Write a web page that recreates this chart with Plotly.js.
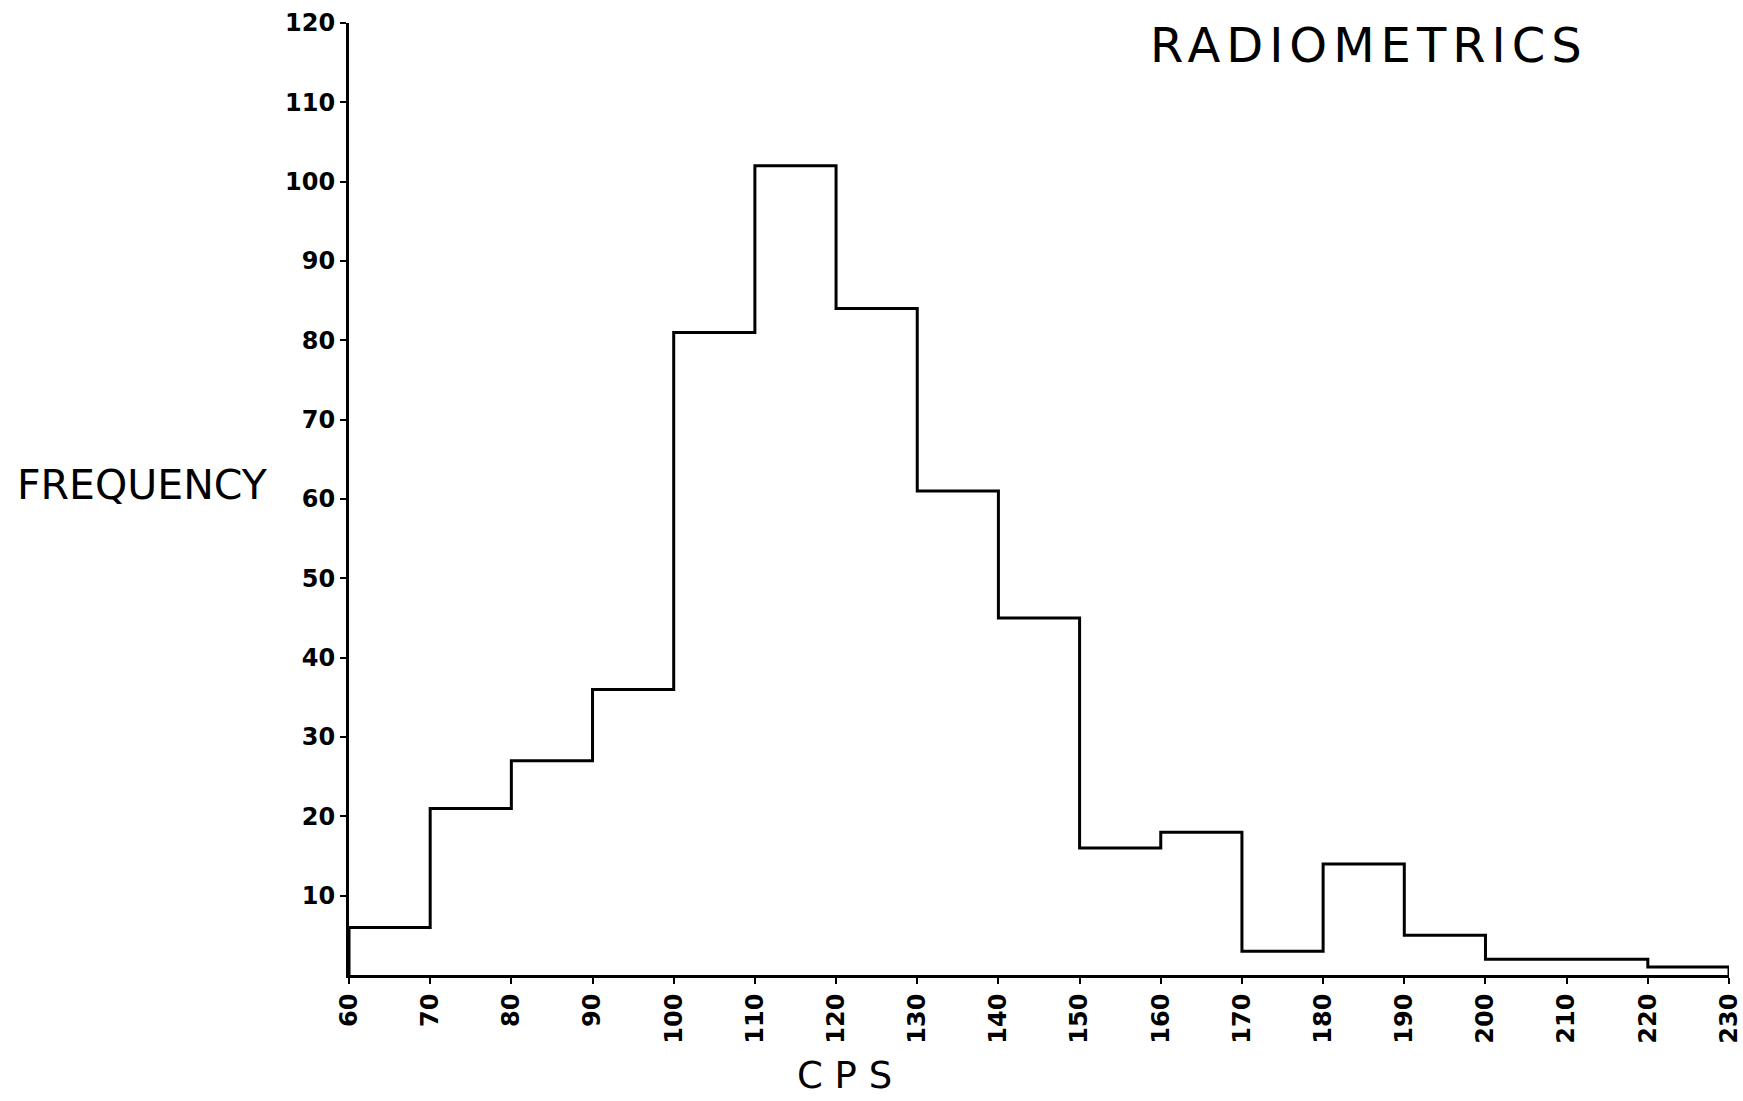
<!DOCTYPE html>
<html>
<head>
<meta charset="utf-8">
<script src="https://cdn.plot.ly/plotly-3.0.1.min.js"></script>
<style>
  html, body { margin: 0; padding: 0; background: #fff; }
  #chart { width: 1743px; height: 1101px; }
</style>
</head>
<body>
<div id="chart"></div>
<script>
// Histogram bin edges (CPS) and frequencies
const binEdges = [60, 70, 80, 90, 100, 110, 120, 130, 140, 150, 160, 170, 180, 190, 200, 210, 220, 230];
const frequency = [6, 21, 27, 36, 81, 102, 84, 61, 45, 16, 18, 3, 14, 5, 2, 2, 1];
const xTickVals = [60, 70, 80, 90, 100, 110, 120, 130, 140, 150, 160, 170, 180, 190, 200, 210, 220, 230];
const yTickVals = [10, 20, 30, 40, 50, 60, 70, 80, 90, 100, 110, 120];

const n = frequency.length;
const stepX = [binEdges[0]].concat(binEdges.slice(0, n), [binEdges[n], binEdges[n]]);
const stepY = [0].concat(frequency, [frequency[n - 1], 0]);

const trace = {
  type: 'scatter',
  mode: 'lines',
  x: stepX,
  y: stepY,
  line: { shape: 'hv', color: '#000', width: 3 },
  cliponaxis: false,
  hoverinfo: 'skip',
  showlegend: false
};

const font = 'DejaVu Sans, Liberation Sans, sans-serif';

const layout = {
  width: 1743,
  height: 1101,
  margin: { l: 349, r: 14, t: 23, b: 126 },
  paper_bgcolor: '#fff',
  plot_bgcolor: '#fff',
  font: { family: font, color: '#000' },
  showlegend: false,
  xaxis: {
    range: [60, 230],
    tickmode: 'array',
    tickvals: xTickVals,
    ticktext: xTickVals.map(String),
    tickangle: -90,
    ticks: 'outside',
    ticklen: 6,
    tickwidth: 2,
    tickcolor: '#000',
    showline: true,
    linecolor: '#000',
    linewidth: 3,
    showgrid: false,
    zeroline: false,
    tickfont: { family: 'DejaVu Sans', size: 24, color: '#000', weight: 'bold' }
  },
  yaxis: {
    range: [0, 120],
    tickmode: 'array',
    tickvals: yTickVals,
    ticktext: yTickVals.map(String),
    ticks: 'outside',
    ticklen: 6,
    tickwidth: 2,
    tickcolor: '#000',
    showline: true,
    linecolor: '#000',
    linewidth: 3,
    showgrid: false,
    zeroline: false,
    tickfont: { family: 'DejaVu Sans', size: 24, color: '#000', weight: 'bold' }
  },
  annotations: [
    {
      text: '<span style="letter-spacing:6px">RADIOMETRICS</span>',
      xref: 'paper', yref: 'paper',
      x: 0.579, y: 0.977,
      xanchor: 'left', yanchor: 'middle',
      showarrow: false,
      font: { family: font, size: 48, color: '#000' }
    },
    {
      text: 'FREQUENCY',
      xref: 'paper', yref: 'paper',
      x: -0.242, y: 0.515,
      xanchor: 'left', yanchor: 'middle',
      showarrow: false,
      font: { family: font, size: 41, color: '#000' }
    },
    {
      text: 'C P S',
      xref: 'paper', yref: 'paper',
      x: 0.323, y: -0.106,
      xanchor: 'left', yanchor: 'middle',
      showarrow: false,
      font: { family: font, size: 37, color: '#000' }
    }
  ]
};

Plotly.newPlot('chart', [trace], layout, { staticPlot: true, displayModeBar: false });
</script>
</body>
</html>
